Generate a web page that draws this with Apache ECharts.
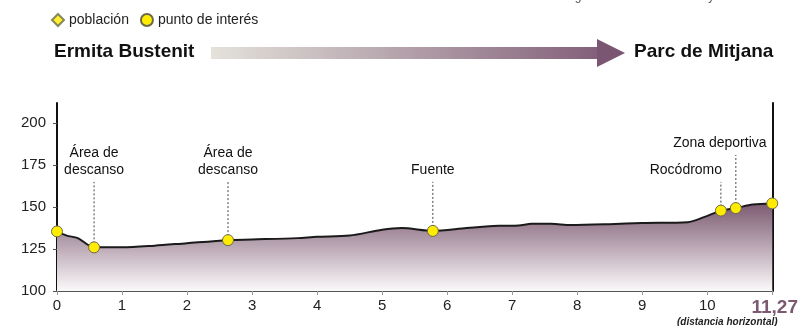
<!DOCTYPE html>
<html>
<head>
<meta charset="utf-8">
<script src="https://cdn.jsdelivr.net/npm/echarts@6/dist/echarts.min.js"></script>
<style>
  html, body { margin: 0; padding: 0; background: #fff; }
  #chart { width: 801px; height: 326px; }
</style>
</head>
<body>
<div id="chart"></div>
<script>
// elevation profile, km along the route / metres
const profileKm = [0, 0.15, 0.32, 0.57, 0.75, 1.0, 1.5, 2.0, 2.63, 3.0, 3.7, 4.0, 4.5, 5.0, 5.3, 5.78, 6.3, 6.8, 7.1, 7.3, 7.6, 7.9, 8.5, 9.0, 9.7, 9.95, 10.21, 10.44, 10.7, 11.0];
const profileElev = [135.5, 133, 131.5, 126, 126, 126, 127, 128.5, 130.3, 130.7, 131.5, 132.3, 133, 136.5, 137.5, 135.8, 137.5, 138.8, 139, 140, 140, 139.3, 139.8, 140.5, 141, 144, 147.9, 149.4, 151.5, 152.2];

// points of interest
const poiKm = [0, 0.57, 2.63, 5.78, 10.21, 10.44, 11.0];
const poiElev = [135.5, 126, 130.3, 135.8, 147.9, 149.4, 152.2];
const poiLabels = ['', 'Área de\ndescanso', 'Área de\ndescanso', 'Fuente', 'Rocódromo', 'Zona deportiva', ''];
const poiLabelTop = [null, 165, 165, 165, 165, 181, null];

const xTicks = [0, 1, 2, 3, 4, 5, 6, 7, 8, 9, 10, 11];
const yTicks = [100, 125, 150, 175, 200];
const totalKmLabel = '11,27';

// label horizontal shift (px), style only
const labelShift = [0, 0, 0, 0, -35, -16, 0];

const FONT = 'Liberation Sans, Arial, sans-serif';

const chart = echarts.init(document.getElementById('chart'));

const profile = profileKm.map((k, i) => [k, profileElev[i]]);
const pois = poiKm.map((k, i) => [k, poiElev[i]]);
const leaders = [];
poiLabels.forEach((l, i) => {
  if (l) leaders.push([poiKm[i], poiElev[i], poiLabelTop[i], i]);
});

const option = {
  animation: false,
  grid: { left: 57, right: 28, top: 103, bottom: 35 },
  legend: {
    left: 46, top: 8,
    itemWidth: 12, itemHeight: 12, itemGap: 11,
    textStyle: { fontFamily: FONT, fontSize: 14, color: '#222' },
    data: [
      { name: 'población', icon: 'diamond' },
      { name: 'punto de interés', icon: 'circle' }
    ]
  },
  xAxis: {
    type: 'value', min: 0, max: 11, interval: 1,
    axisLine: { lineStyle: { color: '#555', width: 2 } },
    axisTick: { show: true, length: 4, lineStyle: { color: '#999' }, customValues: xTicks },
    splitLine: { show: false },
    axisLabel: {
      customValues: xTicks,
      fontFamily: FONT, fontSize: 15, color: '#222', margin: 7,
      formatter: v => v === 11 ? '{t|' + totalKmLabel + '}' : String(v),
      rich: { t: { fontFamily: FONT, fontSize: 19, fontWeight: 'bold', color: '#7b5a71', padding: [0, 0, 0, 5] } }
    }
  },
  yAxis: [{
    type: 'value', min: 100, max: 212,
    axisLine: { show: true, lineStyle: { color: '#111', width: 2 } },
    axisTick: { show: true, length: 4, lineStyle: { color: '#555' }, customValues: yTicks },
    splitLine: { show: false },
    axisLabel: { customValues: yTicks, fontFamily: FONT, fontSize: 15, color: '#222', margin: 11 }
  }, {
    type: 'value', min: 100, max: 212, position: 'right',
    axisLine: { show: true, lineStyle: { color: '#111', width: 2 } },
    axisTick: { show: false }, axisLabel: { show: false }, splitLine: { show: false }
  }],
  series: [
    {
      name: 'perfil', type: 'line', data: profile, smooth: 0.3,
      showSymbol: false, z: 2,
      lineStyle: { color: '#1a1a1a', width: 2 },
      areaStyle: {
        opacity: 1,
        color: new echarts.graphic.LinearGradient(0, 0, 0, 1, [
          { offset: 0, color: '#7c5a71' },
          { offset: 1, color: '#fbf9fa' }
        ])
      }
    },
    {
      name: 'etiquetas', type: 'custom', data: leaders, z: 3,
      renderItem: (params, api) => {
        const i = api.value(3);
        const p0 = api.coord([api.value(0), api.value(1)]);
        const p1 = api.coord([api.value(0), api.value(2)]);
        return {
          type: 'group',
          children: [
            { type: 'line', shape: { x1: p0[0], y1: p0[1], x2: p1[0], y2: p1[1] },
              style: { stroke: '#444', lineWidth: 1, lineDash: [2, 2] } },
            { type: 'text', x: p1[0] + labelShift[i], y: p1[1] - 3,
              style: { text: poiLabels[i], fill: '#111', font: '14px ' + FONT,
                       align: 'center', verticalAlign: 'bottom', lineHeight: 17 } }
          ]
        };
      }
    },
    {
      name: 'punto de interés', type: 'scatter', data: pois, z: 4,
      symbol: 'circle', symbolSize: 11,
      itemStyle: { color: '#ffec00', borderColor: '#6a6a4a', borderWidth: 1, opacity: 1 }
    },
    {
      name: 'población', type: 'scatter', data: [], symbol: 'diamond',
      itemStyle: { color: '#ffec00', borderColor: '#6a6a4a', borderWidth: 1 }
    }
  ],
  graphic: [
    { type: 'text', right: 14, top: -9,
      style: { text: 'Longitud total de la ruta incluyendo ramales', font: '12px ' + FONT, fill: '#555' } },
    { type: 'text', left: 54, top: 42,
      style: { text: 'Ermita Bustenit', font: 'bold 19px ' + FONT, fill: '#111' } },
    { type: 'rect', shape: { x: 211, y: 47, width: 387, height: 12 },
      style: { fill: new echarts.graphic.LinearGradient(0, 0, 1, 0, [
        { offset: 0, color: '#e4e2db' },
        { offset: 1, color: '#83607a' }
      ]) } },
    { type: 'polygon', shape: { points: [[597, 39], [625, 53], [597, 67]] },
      style: { fill: '#7b5672' } },
    { type: 'text', left: 634, top: 42,
      style: { text: 'Parc de Mitjana', font: 'bold 19px ' + FONT, fill: '#111' } },
    { type: 'text', left: 677, top: 317,
      style: { text: '(distancia horizontal)', font: 'italic bold 10px ' + FONT, fill: '#222' } }
  ]
};

chart.setOption(option);
</script>
</body>
</html>
